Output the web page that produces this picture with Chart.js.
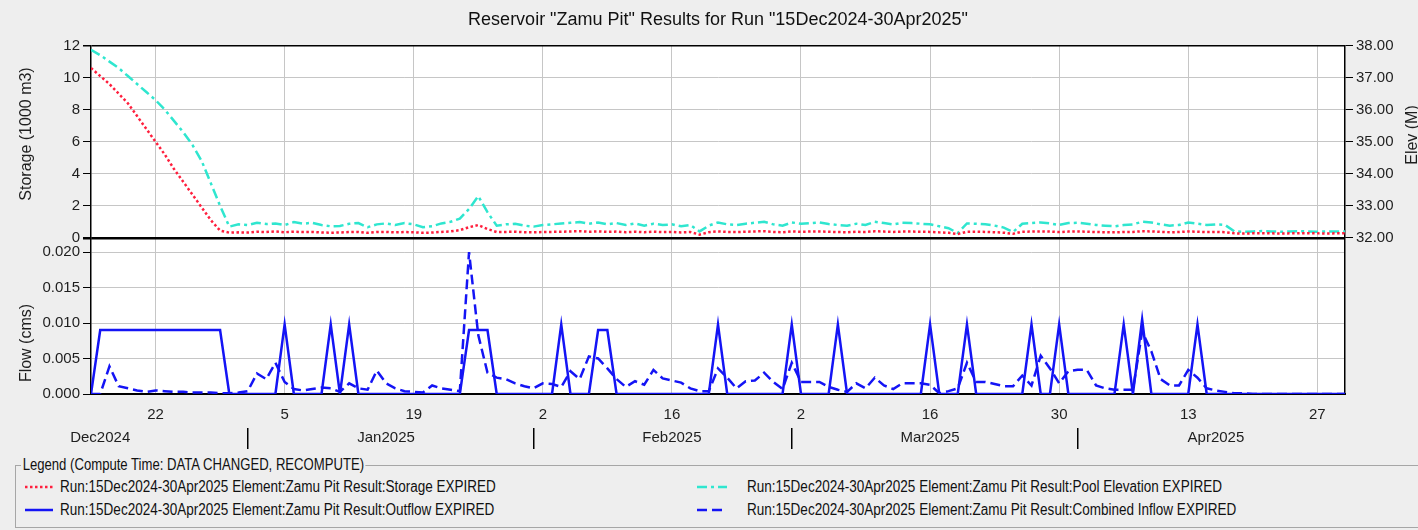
<!DOCTYPE html>
<html>
<head>
<meta charset="utf-8">
<title>Reservoir Zamu Pit</title>
<script src="https://cdn.jsdelivr.net/npm/chart.js@4.4.1/dist/chart.umd.min.js"></script>
<style>
  body { margin: 0; background: #eeeeee; font-family: "Liberation Sans", Arial, sans-serif; }
  #page { position: relative; width: 1418px; height: 530px; overflow: hidden; }
  #chart { position: absolute; left: 0; top: 0; }
  .legendBox { position: absolute; left: 15px; top: 465px; width: 1420px; height: 61px; border: 1px solid #a6a6a6; border-right: none; }
  .legendTitle { position: absolute; left: 21px; top: 456px; padding: 0 2px; background: #eeeeee; transform: scaleX(0.82); transform-origin: left center; }
  .legendTitle, .legendItem span { font-family: "Liberation Sans", Arial, sans-serif; font-size: 16px; color: #111; white-space: nowrap; line-height: 18px; }
  .legendItem { position: absolute; height: 18px; }
  .legendItem svg, .legendItem span { position: absolute; top: 0; }
  .legendItem span { transform: scaleX(0.845); transform-origin: left center; }
</style>
</head>
<body>
<div id="page">
  <canvas id="chart" width="1418" height="455"></canvas>
  <div class="legendBox"></div>
  <div class="legendTitle">Legend (Compute Time: DATA CHANGED, RECOMPUTE)</div>
  <div id="legend"></div>
</div>
<script>
// day 0 = 15Dec2024, one value per day up to 30Apr2025 (day 136)
let days = Array.from({ length: 137 }, (_, i) => i);

let chartTitle = 'Reservoir "Zamu Pit" Results for Run "15Dec2024-30Apr2025"';

let seriesNames = [
    "Run:15Dec2024-30Apr2025 Element:Zamu Pit Result:Storage EXPIRED",
    "Run:15Dec2024-30Apr2025 Element:Zamu Pit Result:Pool Elevation EXPIRED",
    "Run:15Dec2024-30Apr2025 Element:Zamu Pit Result:Outflow EXPIRED",
    "Run:15Dec2024-30Apr2025 Element:Zamu Pit Result:Combined Inflow EXPIRED",
];
let seriesColors = ["#ff1f3d", "#2fe6cf", "#1414f5", "#1414f5"];
let seriesDash = [[2.5, 2.5], [10, 4, 3, 4], [], [10, 5]];

// storage (1000 m3)
let storage = [
    10.6, 10.1, 9.6, 9.0, 8.4, 7.6, 6.8, 6.0, 5.2, 4.3, 3.5, 2.7, 1.9, 1.1, 0.45, 0.32,
    0.34, 0.33, 0.38, 0.36, 0.40, 0.35, 0.38, 0.36, 0.37, 0.33, 0.32, 0.33, 0.36, 0.37, 0.31, 0.36,
    0.37, 0.34, 0.36, 0.35, 0.31, 0.33, 0.37, 0.40,
    0.48, 0.66, 0.80, 0.55, 0.36,
    0.37, 0.38, 0.35, 0.34, 0.36, 0.37, 0.38, 0.40, 0.41, 0.38, 0.40, 0.37, 0.39, 0.35, 0.38, 0.35,
    0.38, 0.36, 0.37, 0.34, 0.36,
    0.20,
    0.35, 0.40, 0.37, 0.36, 0.38, 0.40, 0.41, 0.37, 0.35, 0.40, 0.38, 0.39, 0.40, 0.38, 0.36, 0.35,
    0.38, 0.36, 0.41, 0.39, 0.37, 0.39, 0.39, 0.38, 0.37, 0.34, 0.31,
    0.24,
    0.38, 0.38, 0.37, 0.35, 0.32,
    0.25,
    0.38, 0.39, 0.40, 0.39, 0.36, 0.39, 0.40, 0.38, 0.36, 0.35, 0.34, 0.36, 0.37, 0.41, 0.40, 0.37,
    0.35, 0.36, 0.40, 0.38, 0.36, 0.37, 0.35,
    0.28, 0.27, 0.28, 0.29, 0.28, 0.27, 0.28, 0.28, 0.29, 0.28, 0.27, 0.28, 0.28,
];

// pool elevation (M)
let elevation = [
    37.87, 37.70, 37.50, 37.30, 37.05, 36.80, 36.55, 36.30, 36.00, 35.65, 35.30, 34.90, 34.40, 33.70, 33.00, 32.35,
    32.42, 32.40, 32.47, 32.43, 32.45, 32.40, 32.49, 32.44, 32.47, 32.40, 32.36, 32.37, 32.44, 32.46, 32.33, 32.42,
    32.45, 32.40, 32.46, 32.42, 32.33, 32.36, 32.45, 32.50,
    32.60, 32.90, 33.30, 32.80, 32.38,
    32.42, 32.44, 32.38, 32.35, 32.40, 32.42, 32.45, 32.47, 32.49, 32.44, 32.48, 32.42, 32.46, 32.40, 32.45, 32.38,
    32.44, 32.40, 32.42, 32.36, 32.40,
    32.20,
    32.38, 32.48, 32.42, 32.40, 32.44, 32.47, 32.50, 32.42, 32.38, 32.48, 32.44, 32.46, 32.48, 32.43, 32.40, 32.38,
    32.44, 32.40, 32.50, 32.46, 32.42, 32.47, 32.46, 32.44, 32.42, 32.36, 32.30,
    32.15,
    32.45, 32.44, 32.42, 32.38, 32.32,
    32.18,
    32.44, 32.46, 32.48, 32.45, 32.40, 32.46, 32.47, 32.44, 32.40, 32.38, 32.36, 32.40, 32.42, 32.50, 32.48, 32.42,
    32.38, 32.40, 32.48, 32.44, 32.40, 32.42, 32.40,
    32.20, 32.19, 32.20, 32.21, 32.20, 32.19, 32.20, 32.21, 32.20, 32.19, 32.20, 32.20, 32.20,
];

// outflow (cms)
let outflow = [
    0, 0.009, 0.009, 0.009, 0.009, 0.009, 0.009, 0.009, 0.009, 0.009,
    0.009, 0.009, 0.009, 0.009, 0.009, 0, 0, 0, 0, 0,
    0, 0.0098, 0, 0, 0, 0, 0.0098, 0, 0.0098, 0,
    0, 0, 0, 0, 0, 0, 0, 0, 0, 0,
    0, 0.009, 0.009, 0.009, 0, 0, 0, 0, 0, 0,
    0, 0.0098, 0, 0, 0, 0.009, 0.009, 0, 0, 0,
    0, 0, 0, 0, 0, 0, 0, 0, 0.0098, 0,
    0, 0, 0, 0, 0, 0, 0.0098, 0, 0, 0,
    0, 0.0098, 0, 0, 0, 0, 0, 0, 0, 0,
    0, 0.0098, 0, 0, 0, 0.0098, 0, 0, 0, 0,
    0, 0, 0.0098, 0, 0, 0.0098, 0, 0, 0, 0,
    0, 0, 0.0098, 0, 0.0105, 0, 0, 0, 0, 0,
    0.0098, 0, 0, 0, 0, 0, 0, 0, 0, 0,
    0, 0, 0, 0, 0, 0, 0,
];

// combined inflow (cms)
let inflow = [
    0, 0, 0.0039, 0.0011, 0.0008, 0.0005, 0.0003, 0.0005, 0.0004, 0.0003, 0.0003, 0.0002, 0.0002, 0.0002,
    0.0001, 0.0001, 0.0002, 0.0004,
    0.0029, 0.0021, 0.0044, 0.0017, 0.0007, 0.0005, 0.0007, 0.0009, 0.0008, 0.0003, 0.0015, 0.0008,
    0.0006, 0.0033, 0.0015, 0.0008, 0.0004, 0.0003, 0.0002, 0.0012, 0.0008, 0.0006, 0.0004,
    0.0200, 0.0083, 0.0030, 0.0023, 0.0021, 0.0015, 0.0011, 0.0008, 0.0015, 0.0014,
    0.0010, 0.0032, 0.0021, 0.0053, 0.0050, 0.0036, 0.0021, 0.0010, 0.0018, 0.0013,
    0.0034, 0.0022, 0.0019, 0.0016, 0.0008, 0.0004, 0.0004, 0.0036, 0.0023, 0.0008,
    0.0018, 0.0019, 0.0030, 0.0017, 0.0007, 0.0044, 0.0017, 0.0017, 0.0017, 0.0010,
    0.0006, 0.0003, 0.0015, 0.0008, 0.0023, 0.0012, 0.0007, 0.0015, 0.0015, 0.0015,
    0.0013, 0.0001, 0.0004, 0.0008, 0.0044, 0.0017, 0.0017, 0.0014, 0.0011, 0.0011,
    0.0026, 0.0012, 0.0054, 0.0036, 0.0015, 0.0032, 0.0034, 0.0034, 0.0012, 0.0008,
    0.0006, 0.0006, 0.0006, 0.0088, 0.0060, 0.0021, 0.0012, 0.0012, 0.0034, 0.0023,
    0.0008, 0.0005, 0.0003, 0.0001, 0.0001, 0, 0, 0, 0, 0, 0, 0, 0, 0, 0, 0,
];

// axis ticks
let dayTicks = [7, 21, 35, 49, 63, 77, 91, 105, 119, 133];
let dayTickLabels = ["22", "5", "19", "2", "16", "2", "16", "30", "13", "27"];
let monthEdges = [17, 48, 76, 107];
let monthMid = [1, 32, 63, 91, 122];
let monthLabels = ["Dec2024", "Jan2025", "Feb2025", "Mar2025", "Apr2025"];
let storageTicks = [0, 2, 4, 6, 8, 10, 12];
let elevTicks = [32, 33, 34, 35, 36, 37, 38];
let flowTicks = [0, 0.005, 0.01, 0.015, 0.02];

let gridGray = "#c6c6c6";
let ink = "#1e1e1e";

Chart.defaults.font.family = '"Liberation Sans", Arial, sans-serif';
Chart.defaults.font.size = 15;
Chart.defaults.color = ink;

// white plot area on grey page
let whitePlot = {
    id: "whitePlot",
    beforeDraw(chart) {
        let a = chart.chartArea;
        chart.ctx.save();
        chart.ctx.fillStyle = "#ffffff";
        chart.ctx.fillRect(a.left, a.top, a.right - a.left, a.bottom - a.top);
        chart.ctx.restore();
    },
};

// axis titles, all read bottom-to-top like the original
let axisTitles = [
    { text: "Storage (1000 m3)", x: 27, y: 134 },
    { text: "Flow (cms)", x: 27, y: 343 },
    { text: "Elev (M)", x: 1413, y: 135 },
];
let sideTitles = {
    id: "sideTitles",
    afterDraw(chart) {
        let ctx = chart.ctx;
        ctx.save();
        ctx.font = '16px "Liberation Sans", Arial, sans-serif';
        ctx.fillStyle = ink;
        ctx.textAlign = "center";
        ctx.textBaseline = "middle";
        axisTitles.forEach((t) => {
            ctx.save();
            ctx.translate(t.x, t.y);
            ctx.rotate(-Math.PI / 2);
            ctx.fillText(t.text, 0, 0);
            ctx.restore();
        });
        ctx.restore();
    },
};

function lineStyle(i) {
    return {
        label: seriesNames[i],
        borderColor: seriesColors[i],
        borderDash: seriesDash[i],
        borderWidth: 2.5,
        pointRadius: 0,
        tension: 0,
        fill: false,
        xAxisID: "x",
    };
}

let chart = new Chart("chart", {
    type: "line",
    data: {
        labels: days,
        datasets: [
            { ...lineStyle(0), data: storage, yAxisID: "yS" },
            { ...lineStyle(1), data: elevation, yAxisID: "yE" },
            { ...lineStyle(2), data: outflow, yAxisID: "yF" },
            { ...lineStyle(3), data: inflow, yAxisID: "yF" },
        ],
    },
    options: {
        responsive: false,
        animation: false,
        layout: { padding: 0 },
        plugins: {
            legend: { display: false },
            tooltip: { enabled: false },
            title: {
                display: true,
                text: chartTitle,
                fullSize: false,
                color: "#111",
                font: { size: 18, weight: "normal" },
                padding: { top: 9, bottom: 15 },
            },
        },
        scales: {
            x: {
                type: "linear",
                position: "bottom",
                weight: 0,
                min: 0,
                max: 136,
                afterBuildTicks: (s) => { s.ticks = dayTicks.map((v) => ({ value: v })); },
                afterFit: (s) => { s.height = 34; },
                ticks: {
                    autoSkip: false,
                    maxRotation: 0,
                    padding: 12,
                    callback: (v) => dayTickLabels[dayTicks.indexOf(v)],
                },
                grid: { color: gridGray, drawTicks: false },
                border: { color: "#000", width: 2 },
            },
            xm: {
                type: "linear",
                axis: "x",
                position: "bottom",
                weight: 1,
                min: 0,
                max: 136,
                afterBuildTicks: (s) => {
                    s.ticks = monthEdges.concat(monthMid).sort((a, b) => a - b).map((v) => ({ value: v }));
                },
                afterFit: (s) => { s.height = 27; },
                ticks: {
                    autoSkip: false,
                    maxRotation: 0,
                    padding: -20,
                    callback: (v) => {
                        let i = monthMid.indexOf(v);
                        return i < 0 ? "" : monthLabels[i];
                    },
                },
                grid: {
                    drawOnChartArea: false,
                    tickLength: 21,
                    lineWidth: 1.5,
                    tickColor: (c) => (c.tick && monthEdges.includes(c.tick.value) ? "#000" : "rgba(0,0,0,0)"),
                },
                border: { display: false },
            },
            yS: {
                type: "linear",
                position: "left",
                stack: "left",
                stackWeight: 192,
                weight: 2,
                min: 0,
                max: 12,
                afterBuildTicks: (s) => { s.ticks = storageTicks.map((v) => ({ value: v })); },
                afterFit: (s) => { s.width = 91; },
                ticks: { padding: 3, autoSkip: false },
                grid: {
                    color: (c) => (c.tick && (c.tick.value === 0 || c.tick.value === 12) ? "#000" : gridGray),
                    lineWidth: (c) => (c.tick && c.tick.value === 0 ? 2.5 : c.tick && c.tick.value === 12 ? 1.5 : 1),
                    tickColor: "#000",
                    tickLength: 8,
                },
                border: { color: "#000", width: 1.5 },
            },
            yF: {
                type: "linear",
                position: "left",
                stack: "left",
                stackWeight: 156,
                weight: 1,
                min: 0,
                max: 0.022,
                afterBuildTicks: (s) => { s.ticks = flowTicks.map((v) => ({ value: v })); },
                afterFit: (s) => { s.width = 91; },
                ticks: { padding: 3, autoSkip: false, callback: (v) => v.toFixed(3) },
                grid: {
                    color: (c) => (c.tick && c.tick.value === 0 ? "#000" : gridGray),
                    tickColor: "#000",
                    tickLength: 8,
                },
                border: { color: "#000", width: 1.5 },
            },
            yE: {
                type: "linear",
                position: "right",
                stack: "right",
                stackWeight: 192,
                weight: 1,
                min: 32,
                max: 38,
                afterBuildTicks: (s) => { s.ticks = elevTicks.map((v) => ({ value: v })); },
                afterFit: (s) => { s.width = 73; },
                ticks: { padding: 3, autoSkip: false, callback: (v) => v.toFixed(2) },
                grid: { drawOnChartArea: false, tickColor: "#000", tickLength: 8 },
                border: { color: "#000", width: 1.5 },
            },
            yR: {
                type: "linear",
                position: "right",
                stack: "right",
                stackWeight: 156,
                weight: 2,
                min: 0,
                max: 1,
                afterFit: (s) => { s.width = 73; },
                ticks: { display: false },
                grid: { display: false },
                border: { color: "#000", width: 1.5 },
            },
        },
    },
    plugins: [whitePlot, sideTitles],
});

// legend box below the chart, two columns like the original
let legendSlots = [
    { left: 25, top: 478, line: 28, text: 35 },
    { left: 697, top: 478, line: 30, text: 50 },
    { left: 25, top: 501, line: 28, text: 35 },
    { left: 697, top: 501, line: 30, text: 50 },
];
let legendHtml = "";
legendSlots.forEach((slot, i) => {
    legendHtml +=
        '<div class="legendItem" style="left:' + slot.left + "px;top:" + slot.top + 'px">' +
        '<svg width="' + slot.line + '" height="18" style="left:0"><line x1="0" y1="9" x2="' + slot.line +
        '" y2="9" stroke="' + seriesColors[i] + '" stroke-width="2.5" stroke-dasharray="' + seriesDash[i].join(" ") + '"/></svg>' +
        '<span style="left:' + slot.text + 'px">' + seriesNames[i] + "</span></div>";
});
document.getElementById("legend").innerHTML = legendHtml;
</script>
</body>
</html>
